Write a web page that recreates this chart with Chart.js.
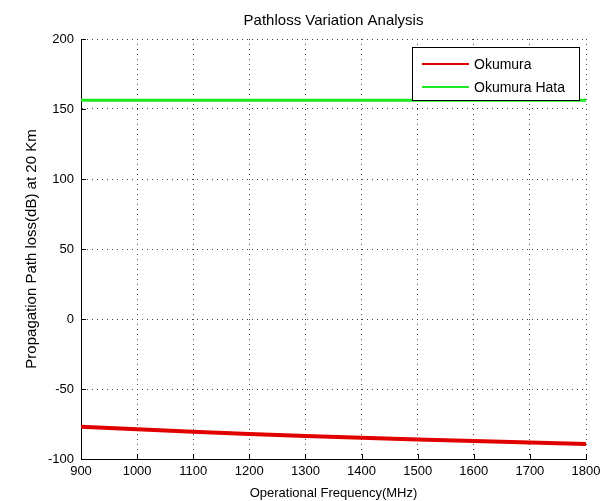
<!DOCTYPE html>
<html>
<head>
<meta charset="utf-8">
<script src="https://cdn.jsdelivr.net/npm/chart.js@4"></script>
<style>
  html, body { margin: 0; padding: 0; background: #fff; }
  canvas { display: block; }
</style>
</head>
<body>
<canvas id="c" width="602" height="501"></canvas>
<script>
// ---- data ----
const okumuraFreq   = [900, 1000, 1100, 1200, 1300, 1400, 1500, 1600, 1700, 1800];
const okumuraValues = [-77.0, -78.8, -80.5, -82.1, -83.5, -84.8, -86.0, -87.2, -88.3, -89.3];
const hataFreq      = [900, 1365, 1800];
const hataValues    = [155.6, 156.2, 156.2];
const xTicks        = [900, 1000, 1100, 1200, 1300, 1400, 1500, 1600, 1700, 1800];
const yTicks        = [-100, -50, 0, 50, 100, 150, 200];
const seriesNames   = ['Okumura', 'Okumura Hata'];
const titleText     = 'Pathloss Variation Analysis';
const xLabel        = 'Operational Frequency(MHz)';
const yLabel        = 'Propagation Path loss(dB) at 20 Km';

const FONT = '"Liberation Sans", Arial, Helvetica, sans-serif';
const RED = '#e00000';
const GREEN = '#1ee81e';

// title centred over the plot area (as MATLAB does)
const plotTitle = {
  id: 'plotTitle',
  afterDraw(chart) {
    const {ctx, chartArea} = chart;
    ctx.save();
    ctx.font = '15px ' + FONT;
    ctx.fillStyle = '#000';
    ctx.textAlign = 'center';
    ctx.textBaseline = 'middle';
    ctx.fillText(titleText, (chartArea.left + chartArea.right) / 2, 21);
    ctx.restore();
  }
};

// inward tick marks (MATLAB style)
const inwardTicks = {
  id: 'inwardTicks',
  afterDatasetsDraw(chart) {
    const {ctx, chartArea} = chart;
    const xs = chart.scales.x, ys = chart.scales.y;
    ctx.save();
    ctx.strokeStyle = '#000';
    ctx.lineWidth = 1;
    ctx.beginPath();
    xTicks.forEach(v => {
      const px = Math.round(xs.getPixelForValue(v)) + 0.5;
      ctx.moveTo(px, chartArea.bottom);
      ctx.lineTo(px, chartArea.bottom - 5);
    });
    yTicks.forEach(v => {
      const py = Math.round(ys.getPixelForValue(v)) + 0.5;
      ctx.moveTo(chartArea.left, py);
      ctx.lineTo(chartArea.left + 5, py);
    });
    ctx.stroke();
    ctx.restore();
  }
};

// legend box inside the plot, top-right
const boxLegend = {
  id: 'boxLegend',
  afterDraw(chart) {
    const {ctx, chartArea} = chart;
    const w = 167, h = 53;
    const x0 = chartArea.right - 7 - w;
    const y0 = chartArea.top + 8;
    ctx.save();
    ctx.fillStyle = '#fff';
    ctx.fillRect(x0, y0, w, h);
    ctx.strokeStyle = '#000';
    ctx.lineWidth = 1;
    ctx.strokeRect(Math.round(x0) + 0.5, Math.round(y0) + 0.5, w, h);
    ctx.font = '14px ' + FONT;
    ctx.textBaseline = 'middle';
    ctx.textAlign = 'left';
    chart.data.datasets.forEach((ds, i) => {
      const yy = y0 + 17 + i * 23;
      ctx.strokeStyle = ds.borderColor;
      ctx.lineWidth = 2;
      ctx.beginPath();
      ctx.moveTo(x0 + 10, yy);
      ctx.lineTo(x0 + 57, yy);
      ctx.stroke();
      ctx.fillStyle = '#000';
      ctx.fillText(ds.label, x0 + 62, yy + 1);
    });
    ctx.restore();
  }
};

new Chart(document.getElementById('c'), {
  type: 'line',
  data: {
    datasets: [
      {
        label: seriesNames[0],
        data: okumuraFreq.map((f, i) => ({x: f, y: okumuraValues[i]})),
        borderColor: RED,
        backgroundColor: RED,
        borderWidth: 4,
        pointRadius: 0,
        tension: 0,
        fill: false
      },
      {
        label: seriesNames[1],
        data: hataFreq.map((f, i) => ({x: f, y: hataValues[i]})),
        borderColor: GREEN,
        backgroundColor: GREEN,
        borderWidth: 3,
        pointRadius: 0,
        stepped: 'after',
        fill: false
      }
    ]
  },
  options: {
    responsive: false,
    animation: false,
    devicePixelRatio: 1,
    layout: { padding: { left: 0, right: 16, top: 39, bottom: 0 } },
    plugins: {
      legend: { display: false },
      tooltip: { enabled: false },
      title: { display: false, text: titleText }
    },
    scales: {
      x: {
        type: 'linear',
        min: 900, max: 1800,
        afterBuildTicks(scale) { scale.ticks = xTicks.map(v => ({value: v})); },
        afterFit(scale) { scale.height = 42; scale.paddingLeft = 0; scale.paddingRight = 0; },
        ticks: {
          color: '#000',
          font: { family: FONT, size: 13 },
          padding: 5,
          maxRotation: 0,
          autoSkip: false,
          callback: v => String(v)
        },
        grid: { color: '#444', lineWidth: 1, drawTicks: false },
        border: { display: true, color: '#000', width: 1, dash: [1, 4] },
        title: {
          display: true,
          text: xLabel,
          color: '#000',
          font: { family: FONT, size: 13 },
          padding: { top: 0, bottom: 0 }
        }
      },
      y: {
        type: 'linear',
        min: -100, max: 200,
        afterBuildTicks(scale) { scale.ticks = yTicks.map(v => ({value: v})); },
        afterFit(scale) { scale.width = 81; },
        ticks: {
          color: '#000',
          font: { family: FONT, size: 13 },
          padding: 7,
          autoSkip: false,
          callback: v => String(v)
        },
        grid: { color: '#444', lineWidth: 1, drawTicks: false },
        border: { display: true, color: '#000', width: 1, dash: [1, 4] },
        title: {
          display: true,
          text: yLabel,
          color: '#000',
          font: { family: FONT, size: 15 },
          padding: { top: 23, bottom: 0 }
        }
      }
    }
  },
  plugins: [inwardTicks, boxLegend, plotTitle]
});
</script>
</body>
</html>
